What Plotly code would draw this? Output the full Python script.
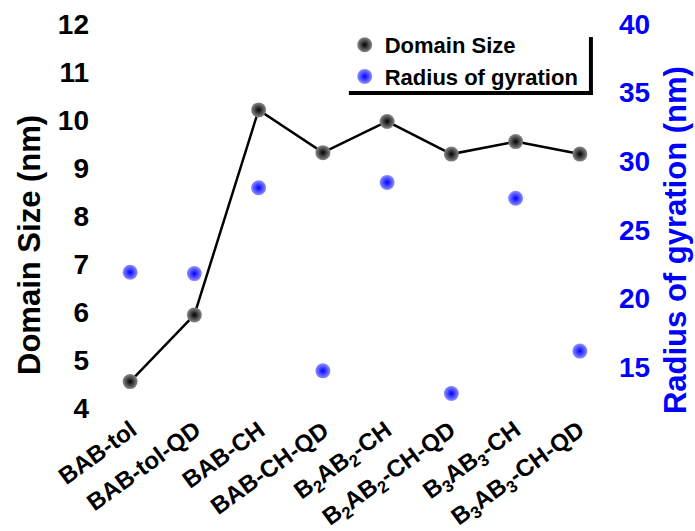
import plotly.graph_objects as go

categories = ["BAB-tol", "BAB-tol-QD", "BAB-CH", "BAB-CH-QD",
              "B<sub>2</sub>AB<sub>2</sub>-CH", "B<sub>2</sub>AB<sub>2</sub>-CH-QD",
              "B<sub>3</sub>AB<sub>3</sub>-CH", "B<sub>3</sub>AB<sub>3</sub>-CH-QD"]
domain_size = [4.55, 5.94, 10.21, 9.32, 9.97, 9.29, 9.55, 9.29]
radius_gyration = [21.9, 21.8, 28.06, 14.71, 28.45, 13.06, 27.29, 16.15]
left_ticks = [4, 5, 6, 7, 8, 9, 10, 11, 12]
right_ticks = [15, 20, 25, 30, 35, 40]

FONT = "Liberation Sans, Arial, sans-serif"
x_idx = list(range(len(categories)))

fig = go.Figure()
fig.add_trace(go.Scatter(
    x=x_idx, y=domain_size, name="Domain Size", mode="lines",
    line=dict(color="black", width=2.5), showlegend=False, hoverinfo="skip",
    yaxis="y"))
fig.add_trace(go.Scatter(
    x=x_idx, y=domain_size, name="Domain Size", mode="markers",
    marker=dict(size=15, color="#8a8a8a", gradient=dict(type="radial", color="black"),
                line=dict(width=0)),
    yaxis="y"))
fig.add_trace(go.Scatter(
    x=x_idx, y=radius_gyration, name="Radius of gyration", mode="markers",
    marker=dict(size=15, color="#9090ff", gradient=dict(type="radial", color="#0000ff"),
                line=dict(width=0)),
    yaxis="y2"))

# category labels as rotated annotations anchored at each category position
label_annotations = [
    dict(text=lab, x=i, xref="x", y=0, yref="paper", xanchor="right", yanchor="top",
         textangle=-36, showarrow=False, xshift=14, yshift=-5,
         font=dict(size=24, family=FONT, weight="bold", color="black"))
    for i, lab in zip(x_idx, categories)
]

fig.update_layout(
    width=695, height=531,
    margin=dict(l=98, r=83, t=24, b=123, autoexpand=False),
    paper_bgcolor="white", plot_bgcolor="white",
    font=dict(family=FONT, color="black"),
    showlegend=True,
    legend=dict(x=0.48, y=1.0, xanchor="left", yanchor="top",
                bgcolor="rgba(0,0,0,0)", borderwidth=0,
                font=dict(size=22, family=FONT, weight="bold", color="black"),
                tracegroupgap=0, itemwidth=30),
    xaxis=dict(range=[-0.5, 7.5], tickvals=x_idx, showticklabels=False,
               showgrid=False, zeroline=False, showline=False,
               ticks="", automargin=False),
    yaxis=dict(range=[4, 12], tickvals=left_ticks, showgrid=False, zeroline=False,
               showline=False, ticks="", ticklabelstandoff=8, automargin=False,
               tickfont=dict(size=28, family=FONT, weight="bold", color="black")),
    yaxis2=dict(range=[12, 40], tickvals=right_ticks, overlaying="y", side="right",
                showgrid=False, zeroline=False, showline=False, ticks="",
                ticklabelstandoff=6, automargin=False,
                tickfont=dict(size=28, family=FONT, weight="bold", color="#0000ff")),
    annotations=label_annotations + [
        dict(text="Domain Size (nm)", xref="paper", yref="paper", x=-0.132, y=0.425,
             xanchor="center", yanchor="middle", textangle=-90, showarrow=False,
             font=dict(size=31, family=FONT, weight="bold", color="black")),
        dict(text="Radius of gyration (nm)", xref="paper", yref="paper", x=1.125, y=0.438,
             xanchor="center", yanchor="middle", textangle=-90, showarrow=False,
             font=dict(size=31, family=FONT, weight="bold", color="#0000ff")),
    ],
    shapes=[
        dict(type="line", xref="paper", yref="paper", x0=0.959, x1=0.959, y0=0.966, y1=0.815,
             line=dict(color="black", width=4)),
        dict(type="line", xref="paper", yref="paper", x0=0.488, x1=0.963, y0=0.82, y1=0.82,
             line=dict(color="black", width=4)),
    ],
)

fig.write_html("out.html")
